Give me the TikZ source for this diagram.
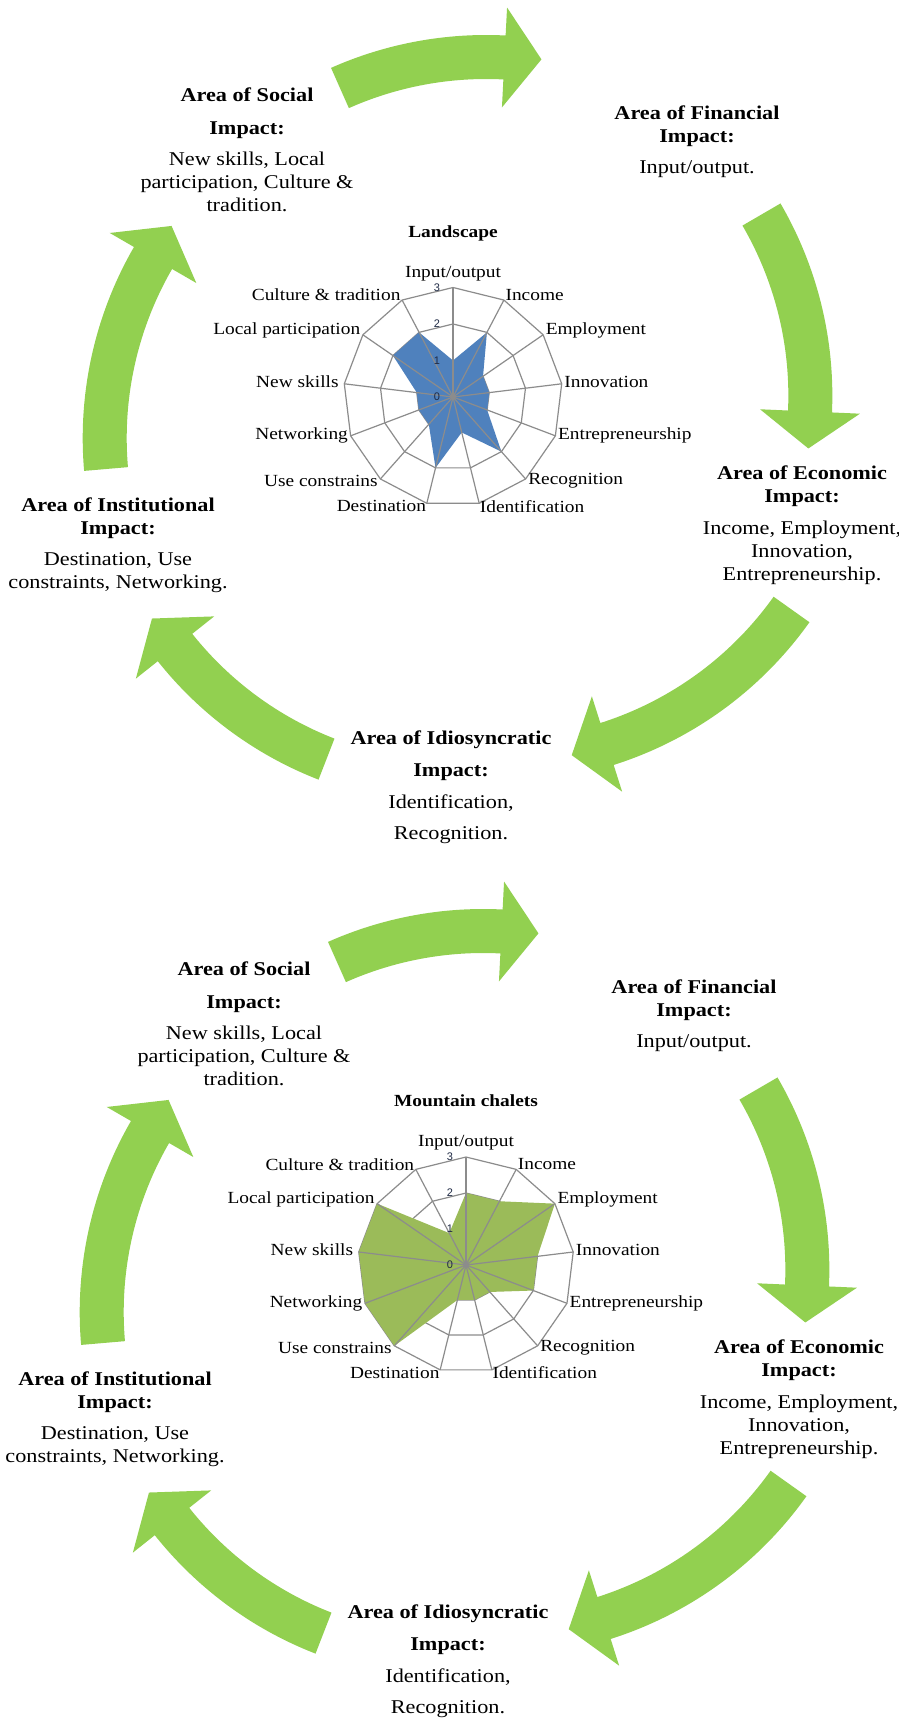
\documentclass[tikz,border=0pt]{standalone}
\usepackage{fontspec}
\setmainfont[FakeStretch=1.14]{Liberation Serif}
\newfontfamily\numfont{Liberation Sans}
\usetikzlibrary{calc}
\definecolor{arrowgreen}{HTML}{92D050}
\definecolor{landblue}{HTML}{4F81BD}
\definecolor{chaletgreen}{HTML}{9BBB59}
\definecolor{gridgray}{HTML}{8C8C8C}
\definecolor{numcol}{HTML}{1F2A44}
\newcommand\IO{Input/output}
\tikzset{
  areatext/.style={align=center, anchor=north, inner sep=0pt, font=\fontsize{19.5}{23}\selectfont},
  bigarrow/.style={fill=arrowgreen, draw=none},
  chartlabel/.style={inner sep=1.5pt, font=\fontsize{17}{20}\selectfont},
  charttitle/.style={inner sep=0pt, font=\bfseries\fontsize{17}{20}\selectfont},
  gridline/.style={draw=gridgray, line width=1.2pt, line join=round},
  spokeline/.style={draw=gridgray, line width=1.2pt},
  numlabel/.style={inner sep=0pt, text=numcol, font=\numfont\fontsize{11}{13}\selectfont}
}
% curved block arrow: #1 centre (x,y), #2 start angle (tail), #3 end angle (head base)
% centre-line radius 360, shaft width 44, head width 100, head length 37
\newcommand\circarrow[3]{%
  \fill[bigarrow] ([shift={#1}]#2:382) arc[start angle=#2, end angle=#3, radius=382]
    -- ([shift={#1}]#3:410) -- ([shift={#1}]{#3+5.87}:361.9) -- ([shift={#1}]#3:310)
    -- ([shift={#1}]#3:338) arc[start angle=#3, end angle=#2, radius=338] -- cycle;
}
% #1 prefix, #2 centre, #3 unit, #4 values, #5 fill colour, #6 title
\newcommand\radarchart[6]{%
  \begin{scope}[shift={#2}]
    \coordinate (#1c) at (0,0);
    \foreach \k in {1,2,3}{
      \draw[gridline] (-90:\k*#3) \foreach \i in {1,...,12}{ -- ({-90+\i*360/13}:\k*#3)} -- cycle;
    }
    \foreach \v [count=\i from 0] in {#4}{
      \coordinate (#1p\i) at ({-90+\i*360/13}:\v*#3);
    }
    \fill[#5] (#1p0) \foreach \i in {1,...,12}{ -- (#1p\i)} -- cycle;
    \foreach \i in {0,...,12}{
      \coordinate (#1v\i) at ({-90+\i*360/13}:3*#3);
      \draw[spokeline] (#1c) -- (#1v\i);
    }
    \fill[gridgray] (#1c) circle (3);
    \foreach \k in {0,...,3}{
      \node[numlabel] (#1n\k) at (-16,{-\k*#3}) {\k};
    }
    \node[charttitle] (#1title) at (0,-164) {#6};
    \foreach \lab/\anc/\dx/\dy [count=\i from 0] in {
        \IO/south/0/-5,
        Income/west/0/-5,
        Employment/west/1/-4,
        Innovation/west/1/-2,
        Entrepreneurship/west/1/0,
        Recognition/west/1/2,
        Identification/west/-1/3,
        Destination/east/1/3,
        Use constrains/east/-1/2,
        Networking/east/-1/0,
        New skills/east/-4/-2,
        Local participation/east/-1/-4,
        Culture \& tradition/east/0/-5}{
      \node[chartlabel, anchor=\anc] (#1lab\i) at ($(#1v\i)+(\dx,\dy)$) {\lab};
    }
  \end{scope}
}
% #1 prefix
\newcommand\impactcycle[1]{%
  \circarrow{(486.1,417.0)}{-113.95}{-87.07}
  \circarrow{(450.35,395.6)}{-30.2}{2.53}
  \circarrow{(498.15,400.85)}{35.42}{72.4}
  \circarrow{(456.85,423.55)}{111.23}{141.53}
  \circarrow{(464.7,438.15)}{175.08}{210.03}
  \node[areatext] (#1social) at (247,88)
    {\textbf{Area of Social}\\[10pt]\textbf{Impact:}\\[8pt]New skills, Local\\participation, Culture \&\\tradition.};
  \node[areatext] (#1financial) at (697,106)
    {\textbf{Area of Financial}\\\textbf{Impact:}\\[8pt]Input/output.};
  \node[areatext] (#1economic) at (802,466)
    {\textbf{Area of Economic}\\\textbf{Impact:}\\[9pt]Income, Employment,\\Innovation,\\Entrepreneurship.};
  \node[areatext] (#1institutional) at (118,498)
    {\textbf{Area of Institutional}\\\textbf{Impact:}\\[8pt]Destination, Use\\constraints, Networking.};
  \node[areatext] (#1idiosyncratic) at (451,731)
    {\textbf{Area of Idiosyncratic}\\[9pt]\textbf{Impact:}\\[9pt]Identification,\\[8pt]Recognition.};
}
\begin{document}
\begin{tikzpicture}[x=1pt,y=-1pt]
  \useasboundingbox (0,0) rectangle (898,1720);
  \fill[white] (0,0) rectangle (898,1720);
  \impactcycle{a}
  \begin{scope}[shift={(-3,874)}]
    \impactcycle{b}
  \end{scope}
  \radarchart{la}{(453,397)}{36.5}{1,2,1,1,1,2,1,2,1,1,1,2,2}{landblue}{Landscape}
  \radarchart{mc}{(466,1265)}{36}{2,2,3,2,2,1,1,1,3,3,3,3,1}{chaletgreen}{Mountain chalets}
\end{tikzpicture}
\end{document}
